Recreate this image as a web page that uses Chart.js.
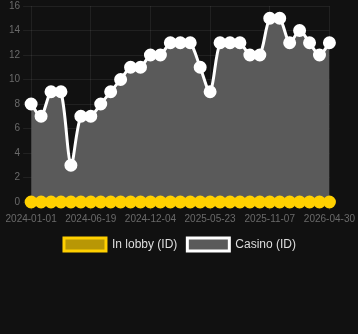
<!DOCTYPE html>
<html>
<head>
<meta charset="utf-8">
<script src="https://cdn.jsdelivr.net/npm/chart.js@4/dist/chart.umd.min.js"></script>
<style>
  html, body { margin: 0; padding: 0; background: #111111; overflow: hidden; }
  #wrap { width: 358px; height: 264px; margin-top: -3px; }
</style>
</head>
<body>
<div id="wrap"><canvas id="chart"></canvas></div>
<script>
// dates (x axis), only every 6th one gets a visible label
const dates = [
  '2024-01-01', '2024-01-29', '2024-02-26', '2024-03-25', '2024-04-22', '2024-05-20',
  '2024-06-19', '2024-07-17', '2024-08-14', '2024-09-11', '2024-10-09', '2024-11-06',
  '2024-12-04', '2025-01-01', '2025-01-29', '2025-02-26', '2025-03-26', '2025-04-24',
  '2025-05-23', '2025-06-20', '2025-07-18', '2025-08-15', '2025-09-12', '2025-10-10',
  '2025-11-07', '2025-12-06', '2026-01-04', '2026-02-02', '2026-03-03', '2026-04-01',
  '2026-04-30'
];
const lobby = [0, 0, 0, 0, 0, 0, 0, 0, 0, 0, 0, 0, 0, 0, 0, 0, 0, 0, 0, 0, 0, 0, 0, 0, 0, 0, 0, 0, 0, 0, 0];
const casino = [8, 7, 9, 9, 3, 7, 7, 8, 9, 10, 11, 11, 12, 12, 13, 13, 13, 11, 9, 13, 13, 13, 12, 12, 15, 15, 13, 14, 13, 12, 13];
const yTicks = { min: 0, max: 16, step: 2 };

const ctx = document.getElementById('chart');
const gridCol = 'rgba(255,255,255,0.07)';

new Chart(ctx, {
  type: 'line',
  data: {
    labels: dates,
    datasets: [
      {
        label: 'In lobby (ID)',
        data: lobby,
        borderColor: '#FFD000',
        backgroundColor: 'rgba(255,208,0,0.7)',
        pointBackgroundColor: '#FFD000',
        pointBorderColor: '#FFD000',
        borderWidth: 3,
        pointRadius: 5,
        clip: false,
        fill: false
      },
      {
        label: 'Casino (ID)',
        data: casino,
        borderColor: '#ffffff',
        backgroundColor: '#5a5a5a',
        pointBackgroundColor: '#ffffff',
        pointBorderColor: '#ffffff',
        borderWidth: 3,
        pointRadius: 5,
        tension: 0.3,
        clip: false,
        fill: 'origin'
      }
    ]
  },
  options: {
    responsive: true,
    maintainAspectRatio: false,
    animation: false,
    layout: { padding: { top: 0, right: 4, left: 6 } },
    scales: {
      x: {
        grid: {
          color: (c) => (c.index % 6 === 0 ? gridCol : 'transparent')
        },
        border: { display: false },
        ticks: {
          color: '#6a6a6a',
          font: { size: 10, family: 'Arial, Liberation Sans, sans-serif' },
          autoSkip: false,
          maxRotation: 0,
          callback: function (v, i) { return i % 6 === 0 ? this.getLabelForValue(v) : ''; }
        }
      },
      y: {
        min: yTicks.min,
        max: yTicks.max,
        grid: { color: gridCol },
        border: { display: false },
        ticks: {
          stepSize: yTicks.step,
          color: '#6a6a6a',
          font: { size: 10, family: 'Arial, Liberation Sans, sans-serif' }
        }
      }
    },
    plugins: {
      legend: {
        position: 'bottom',
        labels: {
          color: '#dddddd',
          boxWidth: 42,
          boxHeight: 13,
          padding: 10,
          font: { size: 12, family: 'Arial, Liberation Sans, sans-serif' }
        }
      },
      tooltip: { enabled: false }
    }
  }
});
</script>
</body>
</html>
